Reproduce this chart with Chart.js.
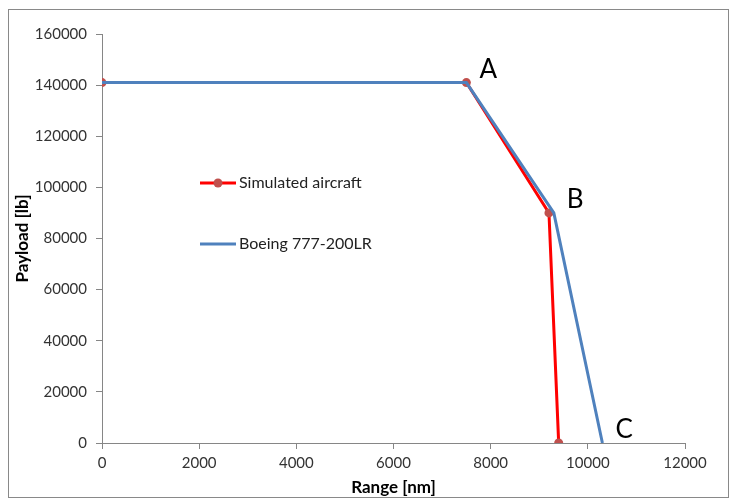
<!DOCTYPE html>
<html>
<head>
<meta charset="utf-8">
<script src="https://cdn.jsdelivr.net/npm/chart.js@4/dist/chart.umd.min.js"></script>
<style>
  html, body { margin: 0; padding: 0; background: #fff; }
  #wrap { position: relative; width: 731px; height: 500px; }
  #frame { position: absolute; left: 8px; top: 9px; width: 721px; height: 489px; border: 1px solid #898989; box-sizing: border-box; pointer-events: none; }
  canvas { display: block; }
</style>
</head>
<body>
<div id="wrap">
  <canvas id="c" width="731" height="500"></canvas>
  <div id="frame"></div>
</div>
<script>
// Payload-range diagram: range [nm] vs payload [lb]
const simRange     = [0, 7500, 9200, 9400];
const simPayload   = [141000, 141000, 90000, 0];
const boeingRange  = [0, 7500, 9300, 10300];
const boeingPayload = [141000, 141000, 90000, 0];

const seriesNames = ['Simulated aircraft', 'Boeing 777-200LR'];

// Corner points of the envelope
const cornerNames   = ['A', 'B', 'C'];
const cornerRange   = [7500, 9300, 10300];
const cornerPayload = [141000, 90000, 0];

const xMin = 0, xMax = 12000, xStep = 2000;
const yMin = 0, yMax = 160000, yStep = 20000;

const toPoints = (xs, ys) => xs.map((x, i) => ({ x: x, y: ys[i] }));

const FONT = 'Lato, "Open Sans", sans-serif';
const AXIS_GRAY = '#868686';

const cornerLabels = {
  id: 'cornerLabels',
  afterDatasetsDraw(chart) {
    const { ctx, scales: { x, y } } = chart;
    ctx.save();
    ctx.fillStyle = '#000';
    ctx.font = '26px ' + FONT;
    ctx.textAlign = 'left';
    ctx.textBaseline = 'middle';
    cornerNames.forEach((t, i) => {
      ctx.fillText(t, x.getPixelForValue(cornerRange[i]) + 13, y.getPixelForValue(cornerPayload[i]) - 13);
    });
    ctx.restore();
  }
};

// Legend placed inside the plot area
const insideLegend = {
  id: 'insideLegend',
  afterDraw(chart) {
    const { ctx, chartArea } = chart;
    const x0 = chartArea.left + 98;
    const rows = [chartArea.top + 149, chartArea.top + 210];
    ctx.save();
    ctx.font = '16px ' + FONT;
    ctx.textBaseline = 'middle';
    ctx.textAlign = 'left';
    chart.data.datasets.forEach((ds, i) => {
      const yy = rows[i];
      ctx.strokeStyle = ds.borderColor;
      ctx.lineWidth = ds.borderWidth;
      ctx.beginPath();
      ctx.moveTo(x0, yy);
      ctx.lineTo(x0 + 36, yy);
      ctx.stroke();
      if (ds.pointRadius > 0) {
        ctx.fillStyle = ds.pointBackgroundColor;
        ctx.beginPath();
        ctx.arc(x0 + 18, yy, ds.pointRadius, 0, Math.PI * 2);
        ctx.fill();
      }
      ctx.fillStyle = '#222';
      ctx.fillText(ds.label, x0 + 39, yy);
    });
    ctx.restore();
  }
};

const plainTick = v => String(v);

new Chart(document.getElementById('c'), {
  type: 'scatter',
  data: {
    datasets: [
      {
        label: seriesNames[0],
        data: toPoints(simRange, simPayload),
        showLine: true,
        borderColor: '#FF0000',
        borderWidth: 3,
        pointRadius: 4.5,
        pointBackgroundColor: '#C0504D',
        pointBorderColor: '#C0504D',
        pointBorderWidth: 0,
        order: 2
      },
      {
        label: seriesNames[1],
        data: toPoints(boeingRange, boeingPayload),
        showLine: true,
        borderColor: '#4F81BD',
        borderWidth: 3,
        pointRadius: 0,
        pointBackgroundColor: '#4F81BD',
        order: 1
      }
    ]
  },
  options: {
    responsive: false,
    animation: false,
    layout: { padding: { left: 0, top: 34, right: 46, bottom: 0 } },
    plugins: { legend: { display: false }, tooltip: { enabled: false } },
    scales: {
      x: {
        type: 'linear',
        min: xMin, max: xMax,
        afterFit(s) { s.height = 57; },
        ticks: { stepSize: xStep, callback: plainTick, color: '#333', font: { family: FONT, size: 15 }, padding: 5, maxRotation: 0 },
        grid: { display: true, drawOnChartArea: false, drawTicks: true, tickLength: 6, color: AXIS_GRAY },
        border: { color: AXIS_GRAY, width: 1 },
        title: { display: true, text: 'Range [nm]', color: '#000', font: { family: FONT, size: 17, weight: 'bold' }, padding: { top: 0, bottom: 2 } }
      },
      y: {
        type: 'linear',
        min: yMin, max: yMax,
        afterFit(s) { s.width = 102; },
        ticks: { stepSize: yStep, callback: plainTick, color: '#333', font: { family: FONT, size: 15 }, padding: 9 },
        grid: { display: true, drawOnChartArea: false, drawTicks: true, tickLength: 6, color: AXIS_GRAY },
        border: { color: AXIS_GRAY, width: 1 },
        title: { display: true, text: 'Payload [lb]', color: '#000', font: { family: FONT, size: 17, weight: 'bold' }, padding: { top: 12, bottom: 0 } }
      }
    }
  },
  plugins: [cornerLabels, insideLegend]
});
</script>
</body>
</html>
